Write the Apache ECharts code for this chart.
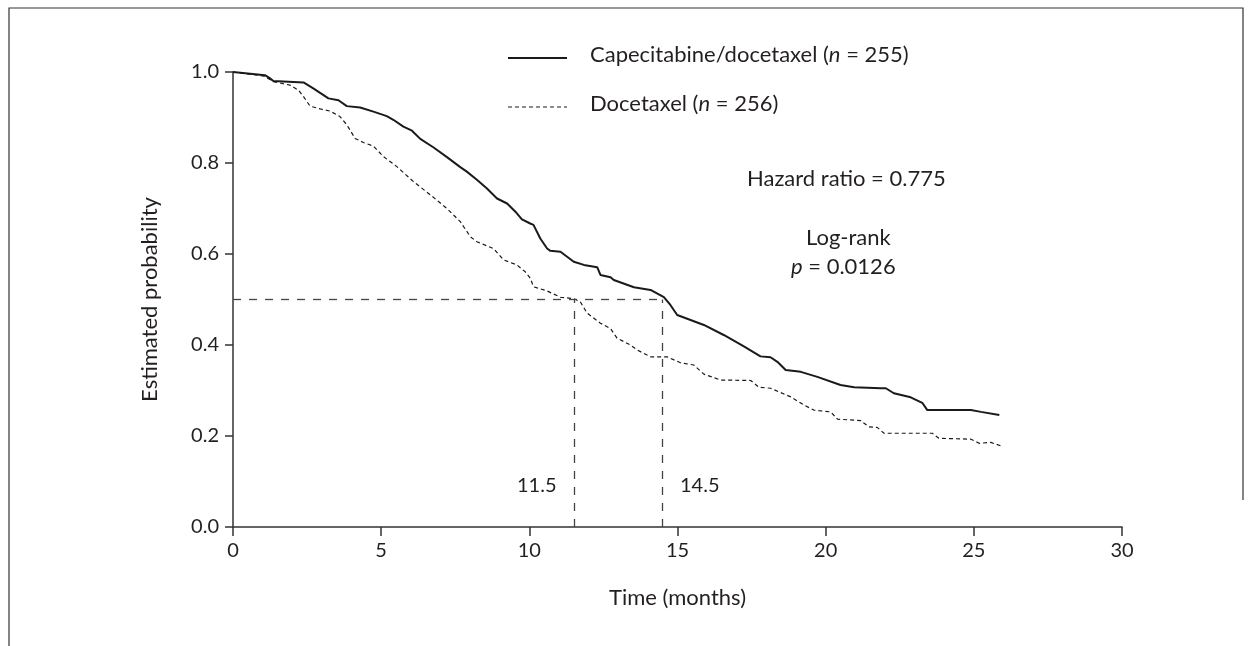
<!DOCTYPE html>
<html>
<head>
<meta charset="utf-8">
<script src="https://cdn.jsdelivr.net/npm/echarts@6/dist/echarts.min.js"></script>
<style>
  html, body { margin: 0; padding: 0; background: #fff; }
  #main { width: 1255px; height: 646px; }
</style>
</head>
<body>
<div id="main"></div>
<script>
// capecitabine/docetaxel arm (solid)
var comboTime = [0, 1.08, 1.25, 1.36, 2.38, 2.71, 3.22, 3.56, 3.84, 4.29, 4.74, 5.19, 5.41, 5.75, 6.04, 6.32, 6.77, 7.22, 7.67, 7.89, 8.23, 8.57, 8.91, 9.25, 9.53, 9.75, 10.03, 10.14, 10.37, 10.6, 10.71, 11.05, 11.5, 11.84, 12.29, 12.4, 12.74, 12.85, 13.53, 14.09, 14.54, 14.76, 14.99, 15.89, 16.56, 17.24, 17.8, 18.14, 18.37, 18.65, 19.16, 19.72, 20.5, 20.96, 21.86, 22.03, 22.3, 22.87, 23.26, 23.43, 24.9, 25.24, 25.86];
var comboProb = [1.0, 0.993, 0.986, 0.980, 0.977, 0.964, 0.942, 0.938, 0.925, 0.922, 0.913, 0.903, 0.895, 0.880, 0.871, 0.853, 0.834, 0.813, 0.791, 0.781, 0.763, 0.744, 0.722, 0.711, 0.693, 0.676, 0.667, 0.664, 0.634, 0.612, 0.607, 0.605, 0.583, 0.576, 0.571, 0.554, 0.549, 0.543, 0.527, 0.521, 0.505, 0.488, 0.466, 0.444, 0.422, 0.397, 0.375, 0.373, 0.363, 0.345, 0.341, 0.330, 0.312, 0.307, 0.305, 0.305, 0.294, 0.285, 0.273, 0.257, 0.257, 0.253, 0.246];

// docetaxel arm (dashed)
var monoTime = [0, 1.05, 1.36, 1.93, 2.21, 2.38, 2.60, 2.94, 3.28, 3.61, 3.84, 4.12, 4.40, 4.74, 5.08, 5.53, 6.09, 6.66, 7.22, 7.67, 8.01, 8.23, 8.79, 9.13, 9.58, 9.86, 10.03, 10.14, 10.59, 11.05, 11.5, 11.72, 11.95, 12.4, 12.74, 12.96, 13.41, 13.64, 14.09, 14.65, 15.1, 15.55, 15.89, 16.45, 17.47, 17.75, 18.14, 18.82, 19.27, 19.6, 20.17, 20.4, 21.18, 21.46, 21.74, 21.97, 23.6, 23.82, 24.9, 25.18, 25.57, 25.97];
var monoProb = [1.0, 0.991, 0.979, 0.971, 0.960, 0.946, 0.925, 0.919, 0.914, 0.902, 0.884, 0.854, 0.845, 0.837, 0.814, 0.792, 0.759, 0.730, 0.700, 0.671, 0.638, 0.627, 0.612, 0.587, 0.576, 0.561, 0.547, 0.528, 0.519, 0.505, 0.502, 0.495, 0.470, 0.448, 0.436, 0.415, 0.400, 0.389, 0.374, 0.374, 0.361, 0.356, 0.336, 0.323, 0.322, 0.307, 0.305, 0.286, 0.268, 0.257, 0.253, 0.237, 0.234, 0.220, 0.219, 0.206, 0.206, 0.195, 0.193, 0.184, 0.186, 0.177];

// medians
var medianCombo = 14.5;
var medianMono = 11.5;
var xTicks = [0, 5, 10, 15, 20, 25, 30];
var yTicks = [0, 0.2, 0.4, 0.6, 0.8, 1.0];

var FONT = 'Lato';
var INK = '#231f20';

function pairs(xs, ys) {
  var out = [];
  for (var i = 0; i < xs.length; i++) out.push([xs[i], ys[i]]);
  return out;
}

var myChart = echarts.init(document.getElementById('main'));
myChart.setOption({
  animation: false,
  textStyle: { fontFamily: FONT, color: INK },
  grid: { left: 233, right: 133, top: 72, bottom: 119 },
  xAxis: {
    type: 'value',
    min: xTicks[0],
    max: xTicks[xTicks.length - 1],
    interval: 5,
    name: 'Time (months)',
    nameLocation: 'middle',
    nameGap: 60,
    nameTextStyle: { fontFamily: FONT, fontSize: 22, color: INK },
    axisLine: { show: true, onZero: false, lineStyle: { color: '#333', width: 1.5 } },
    axisTick: { show: true, length: 9, lineStyle: { color: '#333', width: 1.5 } },
    axisLabel: { fontFamily: FONT, fontSize: 20, color: INK, margin: 14 },
    splitLine: { show: false }
  },
  yAxis: {
    type: 'value',
    min: yTicks[0],
    max: yTicks[yTicks.length - 1],
    interval: 0.2,
    name: 'Estimated probability',
    nameLocation: 'middle',
    nameGap: 72,
    nameTextStyle: { fontFamily: FONT, fontSize: 22, color: INK },
    axisLine: { show: true, lineStyle: { color: '#333', width: 1.5 } },
    axisTick: { show: true, length: 8, lineStyle: { color: '#333', width: 1.5 } },
    axisLabel: { fontFamily: FONT, fontSize: 20, color: INK, margin: 14, formatter: function (v) { return v.toFixed(1); } },
    splitLine: { show: false }
  },
  series: [{
    name: 'combo',
    type: 'line',
    symbol: 'none',
    lineStyle: { color: '#1a1a1a', width: 2 },
    data: pairs(comboTime, comboProb),
    z: 3
  }, {
    name: 'mono',
    type: 'line',
    symbol: 'none',
    lineStyle: { color: '#1a1a1a', width: 1.2, type: [4, 3] },
    data: pairs(monoTime, monoProb),
    z: 3,
    markLine: {
      silent: true,
      symbol: 'none',
      label: { show: false },
      lineStyle: { color: '#444', width: 1.3, type: [8, 8] },
      data: [
        [{ coord: [0, 0.5] }, { coord: [medianCombo, 0.5] }],
        [{ coord: [medianMono, 0] }, { coord: [medianMono, 0.5] }],
        [{ coord: [medianCombo, 0] }, { coord: [medianCombo, 0.5] }]
      ]
    }
  }],
  graphic: [
    // outer frame
    { type: 'polyline', silent: true, shape: { points: [[9, 646], [9, 8], [1243, 8], [1243, 500]] }, style: { stroke: '#333', lineWidth: 1.2, fill: null } },
    // legend
    { type: 'line', silent: true, shape: { x1: 508, y1: 58, x2: 567, y2: 58 }, style: { stroke: '#1a1a1a', lineWidth: 2 } },
    { type: 'line', silent: true, shape: { x1: 508, y1: 107, x2: 567, y2: 107 }, style: { stroke: '#1a1a1a', lineWidth: 1.2, lineDash: [4, 3] } },
    { type: 'text', left: 590, top: 44, style: {
      text: 'Capecitabine/docetaxel ({i|n} = 255)', font: '22px ' + FONT, fill: INK,
      rich: { i: { font: 'italic 22px ' + FONT, fill: INK } }
    } },
    { type: 'text', left: 590, top: 93, style: {
      text: 'Docetaxel ({i|n} = 256)', font: '22px ' + FONT, fill: INK,
      rich: { i: { font: 'italic 22px ' + FONT, fill: INK } }
    } },
    // statistics
    { type: 'text', left: 747, top: 168, style: { text: 'Hazard ratio = 0.775', font: '22px ' + FONT, fill: INK } },
    { type: 'text', left: 806, top: 227, style: { text: 'Log-rank', font: '22px ' + FONT, fill: INK } },
    { type: 'text', left: 791, top: 256, style: {
      text: '{i|p} = 0.0126', font: '22px ' + FONT, fill: INK,
      rich: { i: { font: 'italic 22px ' + FONT, fill: INK } }
    } },
    // median labels
    { type: 'text', left: 517, top: 476, style: { text: '11.5', font: '20px ' + FONT, fill: INK } },
    { type: 'text', left: 680, top: 476, style: { text: '14.5', font: '20px ' + FONT, fill: INK } }
  ]
});
</script>
</body>
</html>
